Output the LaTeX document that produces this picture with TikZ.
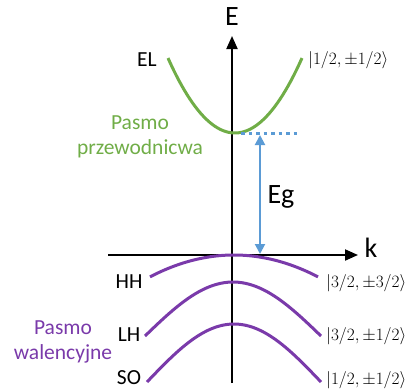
\documentclass[tikz,border=0pt]{standalone}
\usepackage{fontspec}
\setmainfont{Carlito}
\usepackage{amsmath,amssymb}
\usetikzlibrary{arrows.meta, positioning}
\definecolor{bandgreen}{RGB}{112,173,71}
\definecolor{gapblue}{RGB}{91,155,213}
\definecolor{bandviolet}{RGB}{122,58,170}

\begin{document}
\begin{tikzpicture}[x=1pt, y=-1pt, >={Triangle[length=13pt, width=11pt]},
    band/.style={line width=3pt},
    lbl/.style={font=\fontsize{21.5}{25}\selectfont},
    axlbl/.style={font=\fontsize{28}{30}\selectfont},
    ket/.style={font=\fontsize{18.5}{20}\selectfont, anchor=west, inner sep=0pt}]
      \useasboundingbox (0,0) rectangle (417,391);
      % axes
      \coordinate (kmin) at (108,255);
      \coordinate (kmax) at (358,255);
      \coordinate (Emin) at (232,383);
      \coordinate (Emax) at (232,36);
      \draw[->, line width=2pt] (kmin) -- (kmax);
      \draw[->, line width=2pt] (Emin) -- (Emax);
      \node[axlbl] (Elab) at (232,17) {E};
      \node[axlbl] (klab) at (371,248) {k};
      % conduction band
      \draw[band, bandgreen] plot[domain=-67:67, samples=50] ({235+\x},{133-0.0167*\x*\x});
      \node[lbl] (EL) at (147,60) {EL};
      \node[ket] (ketEL) at (308,60) {$|1/2,\pm 1/2\rangle$};
      \node[lbl, bandgreen, align=center] (cband) at (140,137) {Pasmo\\przewodnicwa};
      % band gap
      \coordinate (cbmin) at (241,133);
      \coordinate (cbend) at (297,133);
      \draw[gapblue, line width=3pt, dash pattern=on 3.5pt off 4pt] (cbmin) -- (cbend);
      \coordinate (gtop) at (260,135);
      \coordinate (gbot) at (260,254);
      \draw[<->, gapblue, line width=2pt, >={Triangle[length=10pt, width=10pt]}] (gtop) -- (gbot);
      \node[axlbl] (Eg) at (281,197) {Eg};
      % valence bands
      \draw[band, bandviolet] plot[domain=-84:84, samples=50] ({234+\x},{255+0.0031*\x*\x});
      \draw[band, bandviolet] plot[domain=-88:88, samples=50] ({233+\x},{282+54*(1-cos(\x*90/88))});
      \draw[band, bandviolet] plot[domain=-87:87, samples=50] ({234+\x},{324+58*(1-cos(\x*90/87))});
      \node[lbl] (HH) at (129,282) {HH};
      \node[lbl] (LH) at (129,335) {LH};
      \node[lbl] (SO) at (129,378) {SO};
      \node[ket] (ketHH) at (326,283) {$|3/2,\pm 3/2\rangle$};
      \node[ket] (ketLH) at (326,336) {$|3/2,\pm 1/2\rangle$};
      \node[ket] (ketSO) at (326,380) {$|1/2,\pm 1/2\rangle$};
      \node[lbl, bandviolet, align=center] (vband) at (63,342) {Pasmo\\walencyjne};
    \end{tikzpicture}
\end{document}
